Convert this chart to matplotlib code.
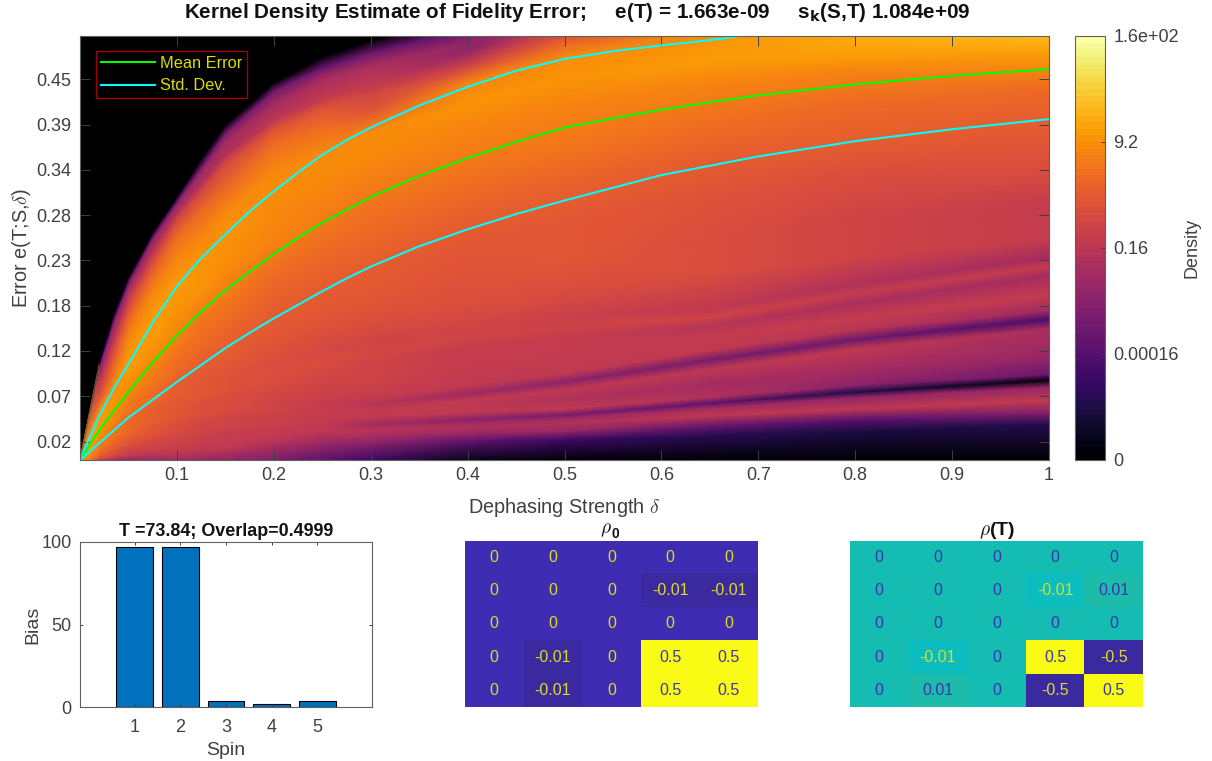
import numpy as np
import matplotlib
matplotlib.use('Agg')
import matplotlib.pyplot as plt
from matplotlib.colors import LinearSegmentedColormap, Normalize
from matplotlib.cm import ScalarMappable

plt.rcParams['font.family'] = ['Liberation Sans', 'DejaVu Sans']

W, H = 1212, 761
TXT = '#404040'

# density map: colour level (0-1 on the colorbar) along curves fanning out of the origin
grid_x = [0, .02, .035, .05, .075, .1, .125, .15, .2, .25, .3, .4, .5, .65, .8, 1]
fan_y = [
    [0, 0, 0, 0, 0, 0, 0, 0, 0, 0, 0, 0, 0, 0, 0, 0],
    [0, .002, .0035, .005, .008, .01, .012, .014, .017, .019, .02, .022, .024, .029, .034, .042],
    [0, .004, .0065, .009, .013, .016, .019, .022, .026, .028, .029, .031, .034, .041, .047, .055],
    [0, .006, .01, .014, .018, .022, .026, .03, .034, .035, .036, .039, .043, .052, .06, .07],
    [0, .0075, .013, .018, .024, .028, .032, .035, .039, .04, .04, .045, .049, .061, .074, .086],
    [0, .008, .014, .019, .025, .03, .034, .037, .04, .041, .042, .048, .053, .067, .08, .094],
    [0, .01, .017, .023, .03, .036, .04, .043, .046, .048, .05, .056, .06, .074, .088, .101],
    [0, .012, .02, .027, .035, .042, .046, .049, .052, .054, .056, .064, .072, .09, .106, .122],
    [0, .014, .023, .031, .04, .047, .051, .055, .058, .059, .061, .071, .083, .107, .131, .155],
    [0, .016, .026, .035, .044, .052, .056, .06, .063, .065, .066, .078, .092, .118, .142, .166],
    [0, .018, .029, .039, .049, .057, .062, .066, .07, .072, .074, .087, .102, .129, .153, .176],
    [0, .021, .034, .045, .055, .064, .07, .074, .082, .089, .096, .11, .125, .145, .168, .195],
    [0, .024, .038, .05, .06, .07, .076, .082, .095, .105, .115, .13, .143, .158, .185, .218],
    [0, .027, .042, .055, .066, .076, .083, .09, .105, .117, .128, .143, .158, .168, .196, .229],
    [0, .03, .046, .06, .071, .082, .09, .098, .115, .128, .14, .155, .168, .178, .207, .239],
    [0, .034, .051, .066, .078, .09, .099, .108, .13, .146, .16, .18, .2, .22, .24, .26],
    [0, .04, .058, .075, .09, .105, .115, .125, .15, .17, .19, .215, .24, .265, .285, .3],
    [0, .048, .067, .085, .103, .12, .135, .15, .18, .205, .228, .255, .28, .31, .335, .345],
    [0, .056, .076, .095, .12, .147, .167, .185, .215, .245, .27, .3, .33, .355, .375, .402],
    [0, .064, .086, .11, .145, .18, .203, .225, .26, .288, .31, .345, .37, .4, .42, .436],
    [0, .072, .1, .13, .17, .205, .235, .26, .3, .335, .36, .39, .42, .445, .46, .46],
    [0, .082, .118, .155, .2, .24, .265, .29, .335, .36, .385, .42, .45, .47, .475, .484],
    [0, .092, .135, .175, .225, .265, .293, .32, .37, .39, .41, .445, .475, .49, .495, .5],
    [0, .1, .147, .19, .24, .285, .318, .35, .39, .415, .435, .465, .5, .51, .52, .53],
    [0, .105, .155, .197, .248, .292, .326, .36, .4, .425, .445, .48, .52, .54, .55, .56],
    [0, .11, .163, .205, .258, .3, .338, .375, .42, .45, .465, .495, .55, .57, .58, .59],
    [0, .112, .167, .21, .263, .305, .345, .385, .435, .462, .48, .51, .56, .58, .59, .6],
    [0, .115, .172, .215, .268, .31, .355, .395, .445, .475, .495, .52, .575, .6, .61, .62],
]
fan_level = [
    [.8, .5, .45, .4, .42, .45, .42, .4, .35, .28, .2, .05, .02, .01, .01, 0],
    [.8, .58, .54, .5, .51, .52, .51, .5, .46, .42, .38, .28, .2, .15, .12, .14],
    [.8, .62, .58, .54, .54, .54, .53, .52, .5, .48, .46, .42, .42, .3, .25, .35],
    [.8, .64, .6, .57, .56, .55, .54, .53, .52, .5, .49, .48, .48, .5, .5, .52],
    [.8, .65, .62, .59, .57, .56, .55, .54, .53, .5, .46, .42, .43, .44, .4, .42],
    [.8, .66, .63, .6, .58, .57, .56, .55, .54, .5, .44, .38, .33, .28, .14, .03],
    [.8, .67, .64, .62, .6, .58, .56, .55, .54, .52, .51, .5, .5, .47, .38, .3],
    [.8, .68, .66, .64, .61, .59, .57, .56, .54, .53, .52, .5, .47, .45, .44, .42],
    [.8, .69, .67, .65, .62, .6, .58, .57, .55, .53, .51, .5, .5, .5, .5, .46],
    [.8, .7, .68, .66, .63, .61, .59, .58, .55, .52, .49, .43, .38, .33, .3, .22],
    [.8, .7, .69, .67, .64, .61, .59, .58, .56, .54, .53, .5, .5, .5, .49, .43],
    [.8, .72, .7, .67, .64, .62, .6, .59, .57, .56, .55, .53, .53, .53, .52, .52],
    [.8, .73, .7, .67, .64, .62, .61, .6, .58, .57, .56, .53, .52, .49, .46, .44],
    [.8, .74, .71, .68, .65, .63, .61, .6, .59, .58, .57, .56, .56, .55, .53, .52],
    [.8, .75, .72, .69, .66, .63, .61, .6, .59, .57, .56, .55, .54, .5, .47, .45],
    [.8, .76, .73, .7, .67, .64, .62, .61, .6, .59, .59, .58, .59, .58, .55, .52],
    [.8, .77, .75, .72, .69, .66, .64, .63, .62, .61, .61, .6, .61, .58, .55, .53],
    [.8, .78, .76, .74, .71, .68, .66, .65, .64, .64, .63, .61, .62, .6, .58, .58],
    [.8, .75, .76, .76, .74, .72, .7, .69, .67, .66, .66, .65, .65, .64, .63, .63],
    [.8, .7, .74, .78, .78, .76, .75, .74, .72, .71, .7, .7, .7, .68, .67, .67],
    [.8, .62, .7, .76, .78, .77, .76, .76, .74, .74, .74, .73, .73, .73, .72, .72],
    [.8, .55, .63, .7, .72, .72, .73, .74, .74, .74, .74, .75, .75, .77, .77, .79],
    [.8, .5, .56, .62, .64, .66, .66, .67, .68, .68, .62, .72, .74, .76, .8, .84],
    [.8, .45, .48, .52, .54, .55, .56, .57, .6, .6, .54, .56, .6, .74, .82, .86],
    [.8, .42, .45, .48, .48, .47, .47, .47, .5, .52, .5, .42, .5, .72, .82, .86],
    [.8, .35, .38, .42, .42, .43, .43, .44, .44, .45, .46, .38, .3, .6, .8, .86],
    [.8, .22, .26, .3, .3, .3, .32, .34, .32, .3, .3, .25, .2, .4, .7, .8],
    [.8, 0, 0, 0, 0, 0, 0, 0, 0, 0, 0, 0, 0, 0, 0, 0],
]

# curves on top of the map
delta = [0, .01, .02, .035, .05, .075, .1, .125, .15, .175, .2, .225, .25, .275, .3, .35, .4, .45, .5, .55,
         .6, .65, .7, .8, .9, 1]
mean_err = [0, .018, .035, .058, .08, .115, .147, .175, .2, .222, .243, .262, .28, .295, .31, .335, .356, .375,
            .392, .403, .413, .422, .43, .443, .453, .461]
std_up = [0, .027, .052, .085, .113, .162, .205, .238, .266, .293, .317, .339, .36, .377, .392, .418, .44, .459,
          .473, .482, .489, .495, .503, .52, .53, .54]
std_lo = [0, .01, .02, .035, .05, .071, .092, .112, .132, .15, .167, .183, .199, .214, .228, .252, .272, .29,
          .306, .321, .336, .347, .358, .376, .39, .402]

y_tick_vals = [.0218, .0752, .1286, .182, .2354, .2888, .3422, .3956, .449]
y_tick_labels = ['0.02', '0.07', '0.12', '0.18', '0.23', '0.28', '0.34', '0.39', '0.45']
x_tick_vals = [.1, .2, .3, .4, .5, .6, .7, .8, .9, 1]
x_tick_labels = ['0.1', '0.2', '0.3', '0.4', '0.5', '0.6', '0.7', '0.8', '0.9', '1']
cbar_ticks = [0, .25, .5, .75, 1]
cbar_labels = ['0', '0.00016', '0.16', '9.2', '1.6e+02']

spins = [1, 2, 3, 4, 5]
bias = [96.8, 96.8, 3.9, 1.8, 3.9]

rho_0 = [[0, 0, 0, 0, 0],
         [0, 0, 0, -0.01, -0.01],
         [0, 0, 0, 0, 0],
         [0, -0.01, 0, 0.5, 0.5],
         [0, -0.01, 0, 0.5, 0.5]]
rho_t = [[0, 0, 0, 0, 0],
         [0, 0, 0, -0.01, 0.01],
         [0, 0, 0, 0, 0],
         [0, -0.01, 0, 0.5, -0.5],
         [0, 0.01, 0, -0.5, 0.5]]

parula = LinearSegmentedColormap.from_list('parula_like', [
    (0, '#3b2a9f'), (.02, '#3f2db4'), (.13, '#4752ef'), (.25, '#2f8ef0'), (.375, '#0db2db'),
    (.49, '#0bbdbf'), (.5, '#14bdb4'), (.51, '#1ebcaa'), (.625, '#5fc96a'), (.75, '#c7c029'),
    (.875, '#fdbd3c'), (1, '#f9fb15')])
inferno = plt.get_cmap('inferno', 64)


def px_axes(left, top, right, bottom):
    return fig.add_axes([left / W, 1 - bottom / H, (right - left) / W, (bottom - top) / H])


def style(ax, ticklen):
    ax.tick_params(direction='in', top=True, right=True, length=ticklen, width=0.7,
                   color='#404040', labelcolor=TXT, labelsize=13)
    for s in ax.spines.values():
        s.set_color('#606060')
        s.set_linewidth(0.8)


fig = plt.figure(figsize=(W / 100, H / 100), dpi=100)

# main density panel
ax = px_axes(80, 36, 1049, 460)
ax.set_facecolor('black')
xx = np.tile(grid_x, (len(fan_y), 1))
ax.pcolormesh(xx, np.array(fan_y), np.array(fan_level), shading='gouraud',
              cmap=inferno, vmin=0, vmax=1)
ax.plot(delta, std_up, color='#00ffff', lw=1.5, label='_up')
ax.plot(delta, mean_err, color='#00ff00', lw=1.5, label='Mean Error')
ax.plot(delta, std_lo, color='#00ffff', lw=1.5, label='Std. Dev.')
ax.set_xlim(0, 1)
ax.set_ylim(0, .5)
ax.set_xticks(x_tick_vals, x_tick_labels)
ax.set_yticks(y_tick_vals, y_tick_labels)
style(ax, 7)
ax.tick_params(axis='x', pad=5)
ax.tick_params(axis='y', pad=6)
ax.set_xlabel(r'Dephasing Strength $\delta$', fontsize=14.3, color=TXT, math_fontfamily='cm', labelpad=9)
ax.set_ylabel(r'Error e(T;S,$\delta$)', fontsize=14.3, color=TXT, math_fontfamily='cm', labelpad=2.5)
leg = ax.legend(loc='upper left', bbox_to_anchor=(16 / 969, 1 - 15 / 424), borderaxespad=0,
                fontsize=11.8, facecolor='black', edgecolor='#a00000', framealpha=1,
                fancybox=False, handlelength=3.3, handletextpad=0.3, labelspacing=0.45,
                borderpad=0.3)
leg.get_frame().set_linewidth(1)
for t in leg.get_texts():
    t.set_color('#dcdc00')

fig.text(577 / W, 1 - 12 / H,
         r'Kernel Density Estimate of Fidelity Error;     e(T) = 1.663e-09     s$_{\mathbf{k}}$(S,T) 1.084e+09',
         ha='center', va='center', fontsize=14.9, fontweight='bold', color='#111111',
         math_fontfamily='dejavusans')

# colorbar
cax = px_axes(1075, 36, 1105, 460)
cb = fig.colorbar(ScalarMappable(Normalize(0, 1), inferno), cax=cax)
cb.set_ticks(cbar_ticks, labels=cbar_labels)
cax.tick_params(direction='in', length=3, width=0.7, color='#404040', labelcolor=TXT, labelsize=13, pad=6)
cb.outline.set_edgecolor('#606060')
cb.outline.set_linewidth(0.8)
cb.set_label('Density', fontsize=13, color=TXT)
cax.yaxis.set_label_coords((1184 - 1075) / 30, .5)

# bias bars
ax2 = px_axes(80, 542, 372, 707)
ax2.bar(spins, bias, width=.81, color='#0072BD', edgecolor='black', linewidth=0.8)
ax2.set_xlim(-.2, 6.2)
ax2.set_ylim(0, 100)
ax2.set_xticks(spins)
ax2.set_yticks([0, 50, 100])
style(ax2, 2.2)
ax2.tick_params(axis='x', pad=9)
ax2.tick_params(axis='y', pad=6)
ax2.set_xlabel('Spin', fontsize=14, color=TXT, labelpad=4)
ax2.set_ylabel('Bias', fontsize=14, color=TXT, labelpad=0)
ax2.set_title('T =73.84; Overlap=0.4999', fontsize=12.9, fontweight='bold', color='#111111', pad=4)


def matrix_panel(box, mat):
    a = px_axes(*box)
    m = np.array(mat)
    a.imshow(m, cmap=parula, aspect='auto', interpolation='nearest')
    mid = (m.min() + m.max()) / 2
    for i in range(m.shape[0]):
        for j in range(m.shape[1]):
            col = '#dcdc20' if m[i, j] < mid else '#3a35b0'
            a.text(j, i, f'{m[i, j]:g}', ha='center', va='center', fontsize=11.5, color=col)
    a.set_xticks([])
    a.set_yticks([])
    for s in a.spines.values():
        s.set_visible(False)
    return a


matrix_panel((465, 541, 758, 707), rho_0)
a3 = matrix_panel((850, 541, 1143, 707), rho_t)
a3.set_title(r'$\rho$(T)', fontsize=14, fontweight='bold', color='#111111', pad=4, math_fontfamily='cm')
# rho_0 title: italic rho with a bold sans subscript
fig.text(606 / W, 1 - 530 / H, r'$\rho$', fontsize=14, color='#111111', ha='center', va='center',
         math_fontfamily='cm')
fig.text(615.5 / W, 1 - 534 / H, '0', fontsize=10, fontweight='bold', color='#111111', ha='center', va='center')

fig.savefig('out.png', dpi=100)
